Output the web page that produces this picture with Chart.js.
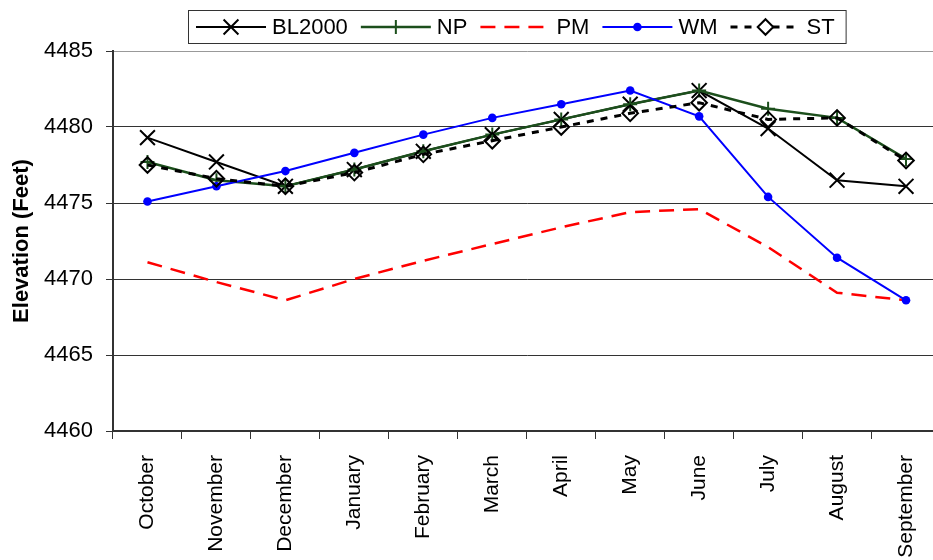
<!DOCTYPE html>
<html>
<head>
<meta charset="utf-8">
<script src="https://cdn.jsdelivr.net/npm/chart.js"></script>
<style>
  html, body { margin: 0; padding: 0; background: #fff; overflow: hidden; width: 933px; height: 560px; }
  #wrap { position: absolute; left: 0; top: 0; width: 953px; height: 560px; }
</style>
</head>
<body>
<div id="wrap"><canvas id="c" width="953" height="560"></canvas></div>
<script>
const months = ['October','November','December','January','February','March','April','May','June','July','August','September'];
const BL2000 = [4479.3, 4477.7, 4476.1, 4477.2, 4478.4, 4479.5, 4480.5, 4481.5, 4482.4, 4479.9, 4476.5, 4476.1];
const NP     = [4477.7, 4476.5, 4476.1, 4477.2, 4478.4, 4479.5, 4480.5, 4481.5, 4482.4, 4481.2, 4480.6, 4477.9];
const PM     = [4471.1, 4469.8, 4468.6, 4470.0, 4471.2, 4472.3, 4473.4, 4474.4, 4474.6, 4472.1, 4469.1, 4468.6];
const WM     = [4475.1, 4476.1, 4477.1, 4478.3, 4479.5, 4480.6, 4481.5, 4482.4, 4480.7, 4475.4, 4471.4, 4468.6];
const ST     = [4477.5, 4476.6, 4476.1, 4477.0, 4478.2, 4479.1, 4480.0, 4480.9, 4481.6, 4480.5, 4480.6, 4477.8];
const yMin = 4460, yMax = 4485, yStep = 5;
const yTitle = 'Elevation (Feet)';

const FONT = '"Liberation Sans", Arial, sans-serif';
const GREEN = '#1c4f1c';

const datasets = [
  { label: 'BL2000', data: BL2000, borderColor: '#000', borderWidth: 2, borderDash: [],
    pointStyle: 'crossRot', pointRadius: 10.5, pointBorderWidth: 2, pointBorderColor: '#000',
    pointBackgroundColor: 'transparent', order: 4 },
  { label: 'NP', data: NP, borderColor: GREEN, borderWidth: 2.5, borderDash: [],
    pointStyle: 'cross', pointRadius: 7, pointBorderWidth: 2, pointBorderColor: GREEN,
    pointBackgroundColor: 'transparent', order: 3 },
  { label: 'PM', data: PM, borderColor: '#ff0000', borderWidth: 2.5, borderDash: [15, 9],
    pointStyle: 'circle', pointRadius: 0, pointBorderWidth: 0, pointBorderColor: '#ff0000',
    pointBackgroundColor: '#ff0000', order: 2 },
  { label: 'WM', data: WM, borderColor: '#0000ff', borderWidth: 2, borderDash: [],
    pointStyle: 'circle', pointRadius: 4.3, pointBorderWidth: 0, pointBorderColor: '#0000ff',
    pointBackgroundColor: '#0000ff', order: 1 },
  { label: 'ST', data: ST, borderColor: '#000', borderWidth: 3, borderDash: [7, 7],
    pointStyle: 'rectRot', pointRadius: 7.8, pointBorderWidth: 2, pointBorderColor: '#000',
    pointBackgroundColor: 'transparent', order: 0 }
];
datasets.forEach(d => { d.tension = 0; d.fill = false; d.pointHoverRadius = d.pointRadius; });

function drawMarker(ctx, style, x, y, r, color, lw, fill) {
  ctx.save();
  ctx.setLineDash([]);
  ctx.strokeStyle = color; ctx.fillStyle = fill; ctx.lineWidth = lw;
  ctx.beginPath();
  if (style === 'crossRot') {
    const o = Math.SQRT1_2 * r;
    ctx.moveTo(x - o, y - o); ctx.lineTo(x + o, y + o);
    ctx.moveTo(x - o, y + o); ctx.lineTo(x + o, y - o);
    ctx.stroke();
  } else if (style === 'cross') {
    ctx.moveTo(x - r, y); ctx.lineTo(x + r, y);
    ctx.moveTo(x, y - r); ctx.lineTo(x, y + r);
    ctx.stroke();
  } else if (style === 'rectRot') {
    ctx.moveTo(x, y - r); ctx.lineTo(x + r, y); ctx.lineTo(x, y + r); ctx.lineTo(x - r, y); ctx.closePath();
    ctx.fillStyle = '#fff'; ctx.fill(); ctx.stroke();
  } else if (style === 'circle' && r > 0) {
    ctx.arc(x, y, r, 0, Math.PI * 2); ctx.fillStyle = fill; ctx.fill();
  }
  ctx.restore();
}

const legendPlugin = {
  id: 'boxLegend',
  afterDraw(chart) {
    const ctx = chart.ctx;
    ctx.save();
    ctx.font = '22px ' + FONT;
    const sampleW = 70, gapText = 6, gapItem = 13, padL = 8, padR = 11;
    const boxLeft = 188, boxTop = 10, boxH = 33;
    const cy = boxTop + boxH / 2 + 0.5;
    let x = boxLeft + padL;
    const items = chart.data.datasets;
    let total = padL;
    items.forEach((d, i) => { total += sampleW + gapText + ctx.measureText(d.label).width + (i < items.length - 1 ? gapItem : 0); });
    total += padR;
    ctx.fillStyle = '#fff';
    ctx.fillRect(boxLeft, boxTop, total, boxH);
    ctx.strokeStyle = '#333'; ctx.lineWidth = 1;
    ctx.strokeRect(boxLeft + 0.5, boxTop + 0.5, total, boxH);
    items.forEach((d, i) => {
      ctx.save();
      ctx.strokeStyle = d.borderColor; ctx.lineWidth = d.borderWidth;
      ctx.setLineDash(d.borderDash || []);
      ctx.beginPath(); ctx.moveTo(x, cy); ctx.lineTo(x + sampleW, cy); ctx.stroke();
      ctx.restore();
      drawMarker(ctx, d.pointStyle, x + sampleW / 2, cy, d.pointRadius, d.pointBorderColor, d.pointBorderWidth, d.pointBackgroundColor);
      x += sampleW + gapText;
      ctx.fillStyle = '#000'; ctx.textBaseline = 'middle'; ctx.textAlign = 'left';
      ctx.fillText(d.label, x, cy + 1);
      x += ctx.measureText(d.label).width + gapItem;
    });
    ctx.restore();
  }
};

new Chart(document.getElementById('c'), {
  type: 'line',
  data: { labels: months, datasets },
  options: {
    responsive: false,
    devicePixelRatio: 1,
    animation: false,
    layout: { padding: { top: 51, left: 0, right: 0, bottom: 0 } },
    plugins: { legend: { display: false }, tooltip: { enabled: false } },
    scales: {
      x: {
        type: 'category',
        offset: true,
        grid: { offset: true, drawOnChartArea: false, drawTicks: true, tickLength: 8, tickColor: '#333', lineWidth: 1 },
        border: { display: true, color: '#333', width: 2 },
        ticks: { autoSkip: false, minRotation: 90, maxRotation: 90, padding: 16, color: '#000',
                 font: { family: FONT, size: 21 } },
        afterFit(scale) { scale.height = 129; }
      },
      y: {
        min: yMin, max: yMax,
        ticks: { stepSize: yStep, padding: 13, color: '#000', font: { family: FONT, size: 22 },
                 callback: v => String(v) },
        grid: { color: c => (c.tick && c.tick.value === yMax) ? '#999' : '#333', lineWidth: 1,
                drawTicks: true, tickLength: 7, tickColor: '#333' },
        border: { display: true, color: '#333', width: 2 },
        title: { display: true, text: yTitle, color: '#000', font: { family: FONT, size: 22, weight: 'bold' },
                 padding: { top: 9, bottom: 0 } },
        afterFit(scale) { scale.width = 113; }
      }
    }
  },
  plugins: [legendPlugin]
});
</script>
</body>
</html>
